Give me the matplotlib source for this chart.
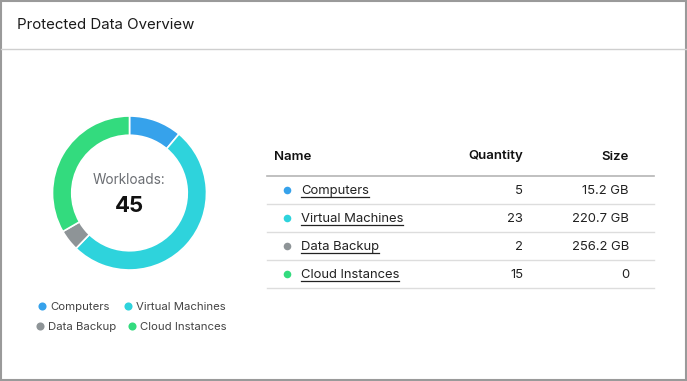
import matplotlib.pyplot as plt
from matplotlib.patches import Rectangle
from matplotlib.lines import Line2D

plt.rcParams['font.family'] = ['Inter', 'DejaVu Sans']

# data
names = ["Computers", "Virtual Machines", "Data Backup", "Cloud Instances"]
quantities = [5, 23, 2, 15]
sizes = ["15.2 GB", "220.7 GB", "256.2 GB", "0"]
colors = ["#36A2EB", "#2ED3DC", "#8E9497", "#33DB7E"]
title = "Protected Data Overview"
center_label = "Workloads:"

W, H = 687, 381
fig = plt.figure(figsize=(W / 100, H / 100), dpi=100)

# full-figure overlay in pixel coords (y down)
bg = fig.add_axes([0, 0, 1, 1])
bg.set_xlim(0, W)
bg.set_ylim(H, 0)
bg.axis("off")

# card border and header
bg.add_patch(Rectangle((0.5, 0.5), W - 1.5, H - 1.5, fill=False, ec="#9a9a9a", lw=1.5))
bg.add_line(Line2D([1, W - 1], [48.5, 48.5], color="#cfcfcf", lw=1))
bg.text(17, 25, title, fontsize=10.8, color="#1a1a1a", va="center", ha="left")

# donut chart
cx, cy, r = 129.5, 193, 77
ax = fig.add_axes([(cx - r) / W, (H - cy - r) / H, 2 * r / W, 2 * r / H])
ax.pie(quantities, colors=colors, startangle=90, counterclock=False,
       wedgeprops=dict(width=0.25, edgecolor="white", linewidth=1.2))
ax.set_xlim(-1, 1)
ax.set_ylim(-1, 1)
ax.set_aspect("equal")
ax.axis("off")

bg.text(cx, 180.5, center_label, fontsize=9.8, color="#6b6e73", ha="center", va="center")
bg.text(cx, 206, str(sum(quantities)), fontsize=16, fontweight="bold", color="#111111",
        ha="center", va="center")

# legend under the donut
legend_pos = [(42, 306), (128, 306), (40, 326), (132, 326)]
for (lx, ly), name, c in zip(legend_pos, names, colors):
    bg.scatter([lx], [ly], s=34, color=c, linewidths=0)
    bg.text(lx + 8, ly + 0.5, name, fontsize=8.2, color="#444444", va="center", ha="left")

# table
x0, x1 = 267, 654
bg.text(274, 156.5, "Name", fontsize=9.5, fontweight="semibold", color="#111111", va="center")
bg.text(523, 156.5, "Quantity", fontsize=9.5, fontweight="semibold", color="#111111",
        va="center", ha="right")
bg.text(629, 156.5, "Size", fontsize=9.5, fontweight="semibold", color="#111111",
        va="center", ha="right")
bg.add_line(Line2D([x0, x1], [175.5, 175.5], color="#b5b5b5", lw=1.2))

fig.canvas.draw()
renderer = fig.canvas.get_renderer()
inv = bg.transData.inverted()

row_h = 28
for i, (name, q, s, c) in enumerate(zip(names, quantities, sizes, colors)):
    y = 190 + i * row_h
    bg.scatter([287], [y], s=30, color=c, linewidths=0)
    t = bg.text(301, y + 1, name, fontsize=9.4, color="#222222", va="center", ha="left")
    bb = t.get_window_extent(renderer)
    (ax0, _), (ax1, _) = inv.transform([(bb.x0, bb.y0), (bb.x1, bb.y0)])
    bg.add_line(Line2D([ax0, ax1], [y + 7, y + 7], color="#222222", lw=0.9))
    bg.text(523, y + 1, str(q), fontsize=9.4, color="#222222", va="center", ha="right")
    bg.text(629, y + 1, s, fontsize=9.4, color="#222222", va="center", ha="right")
    bg.add_line(Line2D([x0, x1], [y + 13.5, y + 13.5], color="#dddddd", lw=1))

fig.savefig("out.png", dpi=100)
